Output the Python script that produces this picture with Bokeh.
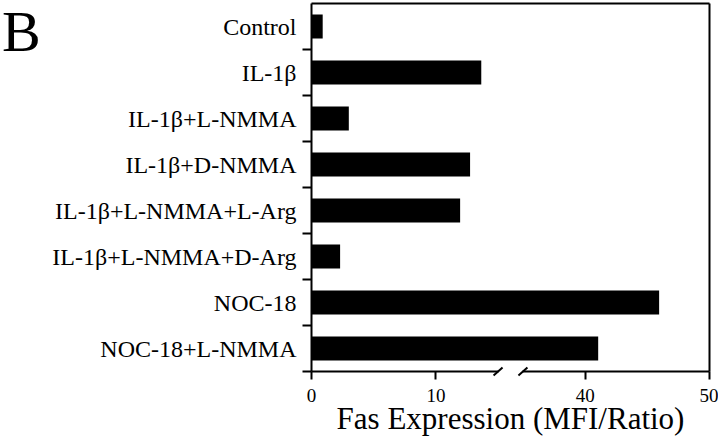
from bokeh.plotting import figure
from bokeh.models import Range1d, FixedTicker, LinearAxis, Div
from bokeh.layouts import row
from bokeh.embed import file_html
from bokeh.resources import INLINE

categories = ["Control", "IL-1β", "IL-1β+L-NMMA", "IL-1β+D-NMMA",
              "IL-1β+L-NMMA+L-Arg", "IL-1β+L-NMMA+D-Arg", "NOC-18", "NOC-18+L-NMMA"]
values = [0.9, 13.65, 3.0, 12.75, 11.95, 2.3, 45.95, 41.05]
x_ticks = [0, 10, 40, 50]
x_tick_labels = ["0", "10", "40", "50"]
break_lo, break_hi = 15, 35
gap = 2
x_max = 50

def tx(v):
    return v if v <= break_lo else v - break_hi + break_lo + gap

n = len(categories)
centers = [i + 0.5 for i in range(n)]
bounds = [i + 1 for i in range(n)]
t_values = [tx(v) for v in values]
t_max = tx(x_max)

# frame geometry (px): the ranges are padded so that guides drawn at fixed
# locations stay inside the frame
W, H = 678, 442
LEFT = 259
pad_left_px = 12
frame_w = W - LEFT
px_x = 398 / t_max
px_y = 46.0
pad_top = 3 / px_y
pad_bot = (H - 3) / px_y - n
x_start = -pad_left_px / px_x
x_end = x_start + frame_w / px_x

FONT = "Liberation Serif"

p = figure(width=W, height=H, output_backend="svg", toolbar_location=None,
           x_range=Range1d(x_start, x_end), y_range=Range1d(n + pad_bot, -pad_top),
           min_border_left=LEFT, min_border_right=0, min_border_top=0,
           min_border_bottom=0)
p.outline_line_color = None
p.grid.visible = False
p.background_fill_color = "white"
p.border_fill_color = "white"

p.hbar(y=centers, left=0, right=t_values, height=0.52, fill_color="black", line_color=None)

# y axis: category labels only
ya = p.yaxis[0]
ya.ticker = FixedTicker(ticks=centers, minor_ticks=[])
ya.major_label_overrides = {c: lab for c, lab in zip(centers, categories)}
ya.axis_line_color = None
ya.major_tick_line_color = None
ya.minor_tick_line_color = None
ya.major_tick_out = 0
ya.major_tick_in = 0
ya.minor_tick_out = 0
ya.minor_tick_in = 0
ya.major_label_standoff = 3
ya.major_label_text_font = FONT
ya.major_label_text_font_size = "24px"
ya.major_label_text_color = "black"

# y rule with ticks between categories
yr = LinearAxis(fixed_location=0, bounds=(0, n), ticker=FixedTicker(ticks=bounds, minor_ticks=[]),
                axis_line_width=2, axis_line_color="black",
                major_tick_out=9, major_tick_in=0, major_tick_line_width=2,
                major_tick_line_color="black", minor_tick_line_color=None,
                major_label_text_color=None, major_label_standoff=0, axis_label_standoff=0)
p.add_layout(yr, "left")

# x axis (ticks, labels, title); line drawn in two pieces below
xa = p.xaxis[0]
t_ticks = [tx(v) for v in x_ticks]
xa.fixed_location = n
xa.bounds = (0, t_max)
xa.ticker = FixedTicker(ticks=t_ticks, minor_ticks=[])
xa.major_label_overrides = {t: lab for t, lab in zip(t_ticks, x_tick_labels)}
xa.axis_line_color = None
xa.minor_tick_line_color = None
xa.major_tick_out = 8
xa.major_tick_in = 0
xa.major_tick_line_width = 2
xa.major_tick_line_color = "black"
xa.major_label_standoff = 9
xa.major_label_text_font = FONT
xa.major_label_text_font_size = "19px"
xa.major_label_text_color = "black"
xa.axis_label = "Fas Expression (MFI/Ratio)"
xa.axis_label_text_font = FONT
xa.axis_label_text_font_size = "31px"
xa.axis_label_text_font_style = "normal"
xa.axis_label_text_color = "black"
xa.axis_label_standoff = -4

def line_axis(loc, fixed, bnds):
    ax = LinearAxis(fixed_location=fixed, bounds=bnds, ticker=FixedTicker(ticks=[], minor_ticks=[]),
                    axis_line_width=2, axis_line_color="black",
                    major_tick_line_color=None, minor_tick_line_color=None,
                    major_label_text_color=None, major_label_standoff=0,
                    axis_label_standoff=0)
    p.add_layout(ax, loc)

line_axis("below", n, (0, tx(break_lo)))
line_axis("below", n, (tx(break_hi), t_max))
line_axis("above", 0, (0, t_max))
line_axis("right", t_max, (0, n))

# axis-break marks
dx, dy = 0.36, 0.087
brk = [tx(break_lo), tx(break_hi)]
p.segment(x0=[b - dx for b in brk], y0=[n + dy] * 2, x1=[b + dx for b in brk], y1=[n - dy] * 2,
          line_color="black", line_width=2)

panel = Div(text="B", width=40, height=70, margin=0,
            styles={"font-family": FONT, "font-size": "58px", "line-height": "1.12",
                    "color": "black", "padding-left": "2px"})

layout = row(panel, p)
open("out.html", "w").write(file_html(layout, INLINE))
